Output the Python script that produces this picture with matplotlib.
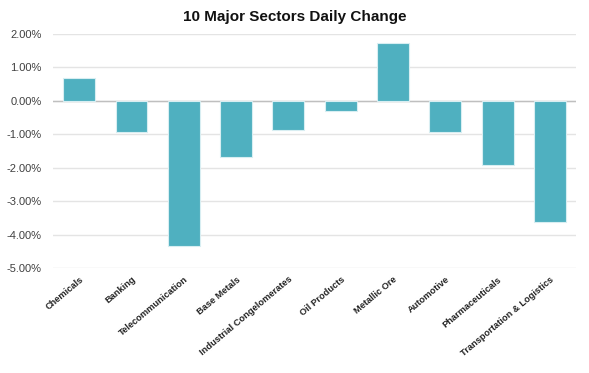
import numpy as np
import matplotlib
matplotlib.use("Agg")
import matplotlib.pyplot as plt
from matplotlib.ticker import FuncFormatter

# sector names and daily change (%)
sectors = ["Chemicals", "Banking", "Telecommunication", "Base Metals",
           "Industrial Congelomerates", "Oil Products", "Metallic Ore",
           "Automotive", "Pharmaceuticals", "Transportation & Logistics"]
changes = [0.69, -0.93, -4.33, -1.68, -0.87, -0.30, 1.71, -0.95, -1.92, -3.62]
yticks = [2, 1, 0, -1, -2, -3, -4, -5]

plt.rcParams['font.family'] = ['Liberation Sans', 'DejaVu Sans']

fig = plt.figure(figsize=(5.89, 3.73), dpi=100)
ax = fig.add_axes([0.09, 0.2815, 0.888, 0.628])

x = np.arange(len(sectors))
ax.bar(x, changes, width=0.61, color="#4FB0C0", edgecolor="#d8eef2", linewidth=0.8, zorder=3)

ax.set_xlim(-0.5, len(sectors) - 0.5)
ax.set_ylim(-5, 2)
ax.set_yticks(yticks)
ax.yaxis.set_major_formatter(FuncFormatter(lambda v, p: f"{v:.2f}%"))
ax.grid(axis="y", color="#e4e4e4", linewidth=1, zorder=0)
ax.axhline(0, color="#bfbfbf", linewidth=1, zorder=2)

for s in ax.spines.values():
    s.set_visible(False)
ax.tick_params(axis="both", length=0)
ax.tick_params(axis="y", labelsize=8, labelcolor="#404040", pad=8)

ax.set_xticks(x)
ax.set_xticklabels(sectors, rotation=40, ha="right", rotation_mode="anchor",
                   fontsize=6.7, fontweight="bold", color="#222222")
ax.tick_params(axis="x", pad=5)

fig.text(0.5, 0.955, "10 Major Sectors Daily Change", ha="center", va="center",
         fontsize=11, fontweight="bold", color="#111111")

fig.savefig("out.png", dpi=100)
